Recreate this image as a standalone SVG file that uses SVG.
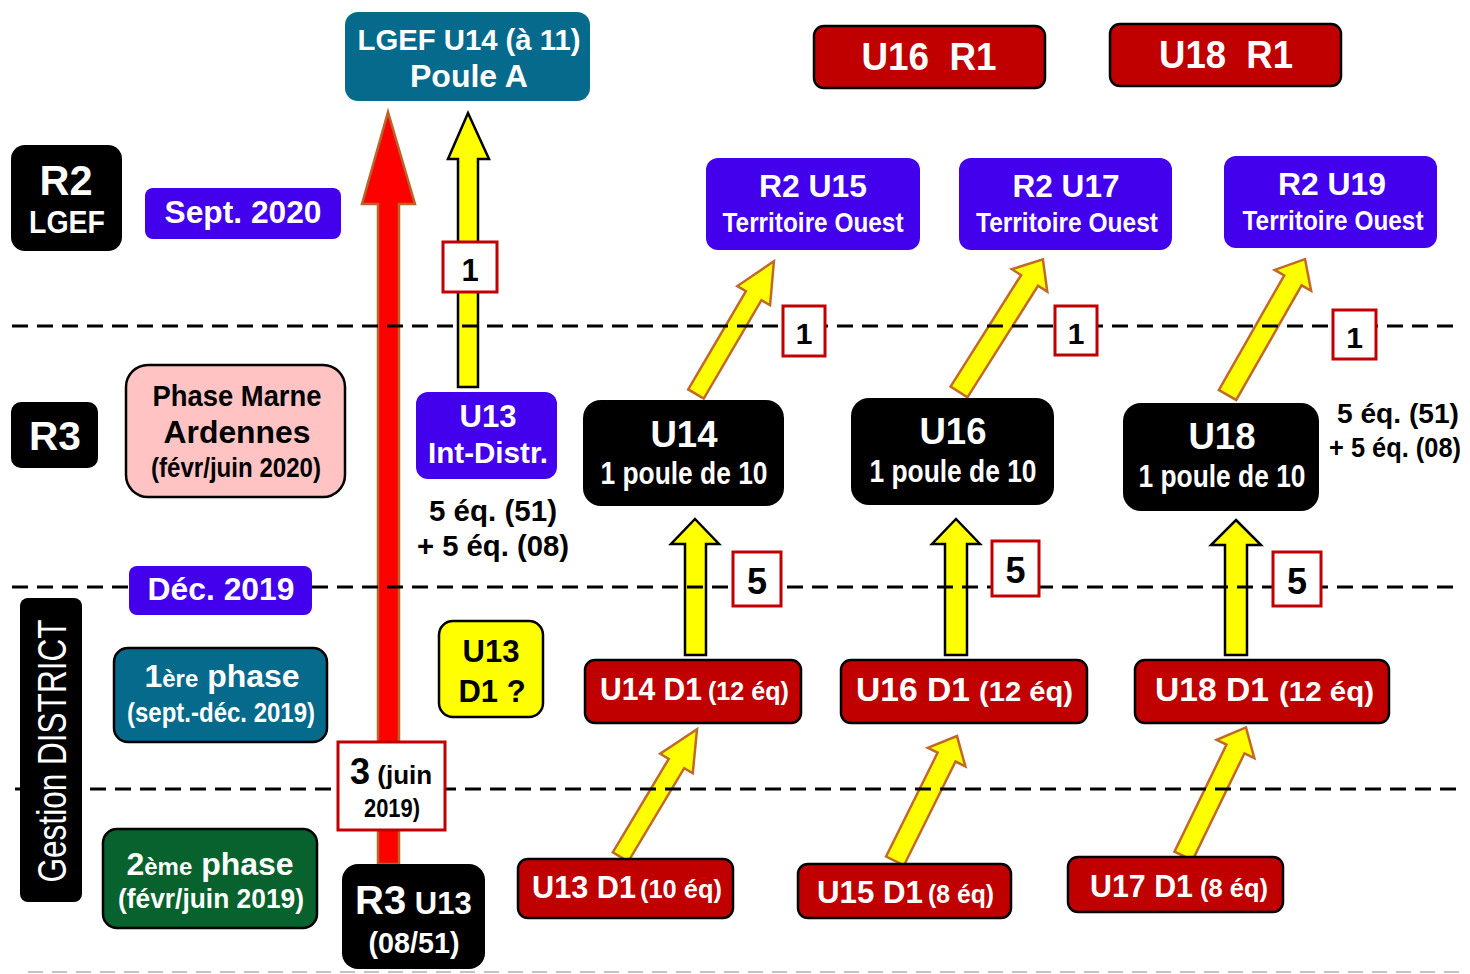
<svg xmlns="http://www.w3.org/2000/svg" width="1470" height="974" viewBox="0 0 1470 974">
<style>
.t{font-family:"Liberation Sans",Arial,sans-serif;font-weight:bold;text-anchor:middle}
.s{text-anchor:start}
.w{fill:#fff}
.k{fill:#000}
.blk{fill:#000}
.teal{fill:#056a8b}
.tealk{fill:#056a8b;stroke:#000;stroke-width:2.5}
.vio{fill:#4200ec}
.red{fill:#c00000;stroke:#000;stroke-width:2.5}
.num{fill:#fff;stroke:#c00000;stroke-width:3}
.ya{fill:#ffff00;stroke:#c0692b;stroke-width:2.5;stroke-linejoin:miter}
.yk{fill:#ffff00;stroke:#000;stroke-width:2.5}
.ra{fill:#ff0000;stroke:#b8652c;stroke-width:2.5}
.dash{stroke:#000;stroke-width:3;stroke-dasharray:16 9;fill:none}
</style>
<rect width="1470" height="974" fill="#fff"/>

<g id="connectors">
  <polygon class="ra" points="388,112 415,204 399,204 399,864 378,864 378,204 362,204"/>
  <polygon class="yk" points="468,113 489,159 478,159 478,387 458,387 458,159 448,159"/>
  <polygon class="yk" points="695,519 719,544 706,544 706,655 685,655 685,544 671,544"/>
  <polygon class="yk" points="956,519 980,544 967,544 967,655 945,655 945,544 932,544"/>
  <polygon class="yk" points="1236,520 1261,545 1247,545 1247,655 1225,655 1225,545 1211,545"/>
  <polygon class="ya" transform="translate(696,394) rotate(-59.6)" points="0,-9 114,-9 114,-19 154,0 114,19 114,9 0,9"/>
  <polygon class="ya" transform="translate(959,392) rotate(-57.7)" points="0,-10 132,-10 132,-21 157,0 132,21 132,10 0,10"/>
  <polygon class="ya" transform="translate(1227.5,395) rotate(-60.3)" points="0,-10 132,-10 132,-21 156.5,0 132,21 132,10 0,10"/>
  <polygon class="ya" transform="translate(620.5,857) rotate(-59.1)" points="0,-9 109,-9 109,-19 149,0 109,19 109,9 0,9"/>
  <polygon class="ya" transform="translate(895,861) rotate(-63.6)" points="0,-10 116,-10 116,-21 139.5,0 116,21 116,10 0,10"/>
  <polygon class="ya" transform="translate(1183.5,856) rotate(-64.1)" points="0,-10 119,-10 119,-21 143,0 119,21 119,10 0,10"/>
</g>

<g id="separators">
  <line class="dash" x1="12" y1="326" x2="1462" y2="326"/>
  <line class="dash" x1="12" y1="587" x2="1462" y2="587"/>
  <line class="dash" x1="15" y1="789" x2="1462" y2="789"/>
  <line x1="28" y1="972" x2="1466" y2="972" stroke="#c4c4c4" stroke-width="2" stroke-dasharray="15 9"/>
</g>

<g id="r2-lgef">
  <rect class="blk" x="11" y="145" width="111" height="106" rx="14"/>
  <text class="t w" x="66" y="195" font-size="42" textLength="53" lengthAdjust="spacingAndGlyphs">R2</text>
  <text class="t w" x="67" y="233" font-size="31" textLength="76" lengthAdjust="spacingAndGlyphs">LGEF</text>
</g>
<g id="sept-2020">
  <rect class="vio" x="145" y="188" width="196" height="51" rx="8"/>
  <text class="t w" x="243" y="223" font-size="31" textLength="157" lengthAdjust="spacingAndGlyphs">Sept. 2020</text>
</g>
<g id="lgef-u14">
  <rect class="teal" x="345" y="12" width="245" height="89" rx="13"/>
  <text class="t w" x="469" y="50" font-size="30" textLength="223" lengthAdjust="spacingAndGlyphs">LGEF U14 (à 11)</text>
  <text class="t w" x="469" y="87" font-size="31" textLength="118" lengthAdjust="spacingAndGlyphs">Poule A</text>
</g>
<g id="u16-r1">
  <rect class="red" x="814" y="26" width="231" height="62" rx="10"/>
  <text class="t w" x="929" y="70" font-size="38" textLength="135" lengthAdjust="spacingAndGlyphs">U16&#160;&#160;R1</text>
</g>
<g id="u18-r1">
  <rect class="red" x="1110" y="24" width="231" height="62" rx="10"/>
  <text class="t w" x="1226" y="68" font-size="38" textLength="134" lengthAdjust="spacingAndGlyphs">U18&#160;&#160;R1</text>
</g>
<g id="r2-u15">
  <rect class="vio" x="706" y="158" width="214" height="92" rx="12"/>
  <text class="t w" x="813" y="197" font-size="31" textLength="108" lengthAdjust="spacingAndGlyphs">R2 U15</text>
  <text class="t w" x="813" y="232" font-size="28" textLength="181" lengthAdjust="spacingAndGlyphs">Territoire Ouest</text>
</g>
<g id="r2-u17">
  <rect class="vio" x="959" y="158" width="213" height="92" rx="12"/>
  <text class="t w" x="1066" y="197" font-size="31" textLength="107" lengthAdjust="spacingAndGlyphs">R2 U17</text>
  <text class="t w" x="1067" y="232" font-size="28" textLength="182" lengthAdjust="spacingAndGlyphs">Territoire Ouest</text>
</g>
<g id="r2-u19">
  <rect class="vio" x="1224" y="156" width="213" height="92" rx="12"/>
  <text class="t w" x="1332" y="195" font-size="31" textLength="108" lengthAdjust="spacingAndGlyphs">R2 U19</text>
  <text class="t w" x="1333" y="230" font-size="28" textLength="181" lengthAdjust="spacingAndGlyphs">Territoire Ouest</text>
</g>
<g id="r3">
  <rect class="blk" x="11" y="402" width="87" height="66" rx="10"/>
  <text class="t w" x="55" y="450" font-size="40" textLength="52" lengthAdjust="spacingAndGlyphs">R3</text>
</g>
<g id="phase-marne">
  <rect x="126" y="365" width="219" height="132" rx="22" fill="#ffc3c3" stroke="#000" stroke-width="2.5"/>
  <text class="t k" x="237" y="406" font-size="30" textLength="169" lengthAdjust="spacingAndGlyphs">Phase Marne</text>
  <text class="t k" x="237" y="443" font-size="31" textLength="147" lengthAdjust="spacingAndGlyphs">Ardennes</text>
  <text class="t k" x="236" y="477" font-size="27" textLength="170" lengthAdjust="spacingAndGlyphs">(févr/juin 2020)</text>
</g>
<g id="u13-int-distr">
  <rect class="vio" x="416" y="392" width="141" height="87" rx="12"/>
  <text class="t w" x="488" y="427" font-size="31" textLength="57" lengthAdjust="spacingAndGlyphs">U13</text>
  <text class="t w" x="488" y="463" font-size="30" textLength="120" lengthAdjust="spacingAndGlyphs">Int-Distr.</text>
</g>
<g id="eq-left">
  <text class="t k" x="493" y="521" font-size="29" textLength="128" lengthAdjust="spacingAndGlyphs">5 éq. (51)</text>
  <text class="t k" x="493" y="556" font-size="29" textLength="152" lengthAdjust="spacingAndGlyphs">+ 5 éq. (08)</text>
</g>
<g id="u14-poule">
  <rect class="blk" x="583" y="400" width="201" height="106" rx="18"/>
  <text class="t w" x="684" y="447" font-size="37" textLength="67" lengthAdjust="spacingAndGlyphs">U14</text>
  <text class="t w" x="684" y="484" font-size="31" textLength="167" lengthAdjust="spacingAndGlyphs">1 poule de 10</text>
</g>
<g id="u16-poule">
  <rect class="blk" x="851" y="398" width="203" height="107" rx="18"/>
  <text class="t w" x="953" y="444" font-size="37" textLength="67" lengthAdjust="spacingAndGlyphs">U16</text>
  <text class="t w" x="953" y="482" font-size="31" textLength="167" lengthAdjust="spacingAndGlyphs">1 poule de 10</text>
</g>
<g id="u18-poule">
  <rect class="blk" x="1123" y="403" width="196" height="108" rx="18"/>
  <text class="t w" x="1222" y="449" font-size="37" textLength="67" lengthAdjust="spacingAndGlyphs">U18</text>
  <text class="t w" x="1222" y="487" font-size="31" textLength="167" lengthAdjust="spacingAndGlyphs">1 poule de 10</text>
</g>
<g id="eq-right">
  <text class="t k" x="1398" y="423" font-size="28" textLength="122" lengthAdjust="spacingAndGlyphs">5 éq. (51)</text>
  <text class="t k" x="1395" y="457" font-size="27" textLength="132" lengthAdjust="spacingAndGlyphs">+ 5 éq. (08)</text>
</g>
<g id="dec-2019">
  <rect class="vio" x="129" y="566" width="183" height="49" rx="8"/>
  <text class="t w" x="221" y="600" font-size="32" textLength="147" lengthAdjust="spacingAndGlyphs">Déc. 2019</text>
</g>
<g id="gestion-district">
  <rect class="blk" x="20" y="598" width="62" height="304" rx="8"/>
  <text class="t w" transform="translate(66,751) rotate(-90)" x="0" y="0" font-size="40" style="font-weight:normal" textLength="263" lengthAdjust="spacingAndGlyphs">Gestion DISTRICT</text>
</g>
<g id="phase-1">
  <rect class="tealk" x="114" y="648" width="213" height="94" rx="14"/>
  <text class="t w" x="222" y="687" font-size="32">1<tspan font-size="24">ère</tspan> phase</text>
  <text class="t w" x="221" y="722" font-size="28" textLength="188" lengthAdjust="spacingAndGlyphs">(sept.-déc. 2019)</text>
</g>
<g id="phase-2">
  <rect x="103" y="829" width="214" height="99" rx="14" fill="#07622d" stroke="#000" stroke-width="2.5"/>
  <text class="t w" x="210" y="875" font-size="32">2<tspan font-size="24">ème</tspan> phase</text>
  <text class="t w" x="211" y="908" font-size="28" textLength="186" lengthAdjust="spacingAndGlyphs">(févr/juin 2019)</text>
</g>
<g id="u13-d1-q">
  <rect x="439" y="621" width="104" height="96" rx="14" fill="#ffff00" stroke="#000" stroke-width="2.5"/>
  <text class="t k" x="491" y="662" font-size="31">U13</text>
  <text class="t k" x="492" y="702" font-size="31">D1 ?</text>
</g>
<g id="num-3">
  <rect class="num" x="338" y="742" width="107" height="88"/>
  <text class="t s k" x="350" y="784" font-size="36">3<tspan font-size="26"> (juin</tspan></text>
  <text class="t k" x="392" y="817" font-size="25" textLength="56" lengthAdjust="spacingAndGlyphs">2019)</text>
</g>
<g id="r3-u13">
  <rect class="blk" x="342" y="864" width="143" height="105" rx="16"/>
  <text class="t s w" x="355" y="914" font-size="40">R3<tspan font-size="31"> U13</tspan></text>
  <text class="t w" x="414" y="953" font-size="30" textLength="91" lengthAdjust="spacingAndGlyphs">(08/51)</text>
</g>
<g id="u14-d1">
  <rect class="red" x="585" y="660" width="216" height="63" rx="10"/>
  <text class="t s w" x="600" y="700" font-size="32" textLength="102" lengthAdjust="spacingAndGlyphs">U14 D1</text>
  <text class="t s w" x="708" y="700" font-size="26" textLength="81" lengthAdjust="spacingAndGlyphs">(12 éq)</text>
</g>
<g id="u16-d1">
  <rect class="red" x="841" y="660" width="246" height="63" rx="10"/>
  <text class="t s w" x="856" y="701" font-size="33" textLength="114" lengthAdjust="spacingAndGlyphs">U16 D1</text>
  <text class="t s w" x="979" y="701" font-size="28" textLength="94" lengthAdjust="spacingAndGlyphs">(12 éq)</text>
</g>
<g id="u18-d1">
  <rect class="red" x="1135" y="660" width="254" height="63" rx="10"/>
  <text class="t s w" x="1155" y="701" font-size="33" textLength="114" lengthAdjust="spacingAndGlyphs">U18 D1</text>
  <text class="t s w" x="1279" y="701" font-size="28" textLength="95" lengthAdjust="spacingAndGlyphs">(12 éq)</text>
</g>
<g id="u13-d1">
  <rect class="red" x="518" y="859" width="215" height="59" rx="10"/>
  <text class="t s w" x="532" y="898" font-size="31" textLength="104" lengthAdjust="spacingAndGlyphs">U13 D1</text>
  <text class="t s w" x="640" y="898" font-size="26" textLength="82" lengthAdjust="spacingAndGlyphs">(10 éq)</text>
</g>
<g id="u15-d1">
  <rect class="red" x="798" y="864" width="213" height="54" rx="10"/>
  <text class="t s w" x="817" y="903" font-size="31" textLength="106" lengthAdjust="spacingAndGlyphs">U15 D1</text>
  <text class="t s w" x="928" y="903" font-size="26" textLength="66" lengthAdjust="spacingAndGlyphs">(8 éq)</text>
</g>
<g id="u17-d1">
  <rect class="red" x="1068" y="857" width="215" height="55" rx="10"/>
  <text class="t s w" x="1090" y="897" font-size="31" textLength="103" lengthAdjust="spacingAndGlyphs">U17 D1</text>
  <text class="t s w" x="1200" y="897" font-size="26" textLength="68" lengthAdjust="spacingAndGlyphs">(8 éq)</text>
</g>
<g id="num-1-lgef">
  <rect class="num" x="443" y="242" width="54" height="50"/>
  <text class="t k" x="470" y="281" font-size="31">1</text>
</g>
<g id="num-1-u15">
  <rect class="num" x="783" y="306" width="42" height="50"/>
  <text class="t k" x="804" y="344" font-size="30">1</text>
</g>
<g id="num-1-u17">
  <rect class="num" x="1055" y="306" width="42" height="49"/>
  <text class="t k" x="1076" y="344" font-size="30">1</text>
</g>
<g id="num-1-u19">
  <rect class="num" x="1333" y="310" width="43" height="49"/>
  <text class="t k" x="1354.5" y="348" font-size="30">1</text>
</g>
<g id="num-5-u14">
  <rect class="num" x="733" y="552" width="48" height="54"/>
  <text class="t k" x="757" y="594" font-size="36">5</text>
</g>
<g id="num-5-u16">
  <rect class="num" x="992" y="541" width="47" height="55"/>
  <text class="t k" x="1015.5" y="583" font-size="36">5</text>
</g>
<g id="num-5-u18">
  <rect class="num" x="1273" y="552" width="48" height="54"/>
  <text class="t k" x="1297" y="594" font-size="36">5</text>
</g>
</svg>
